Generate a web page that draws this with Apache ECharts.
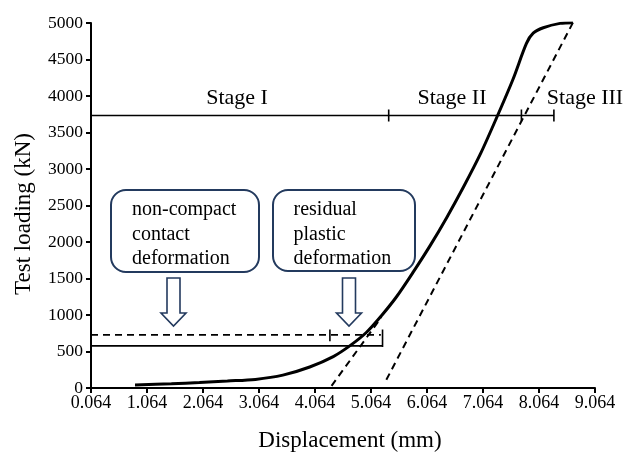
<!DOCTYPE html>
<html><head><meta charset="utf-8">
<script src="https://cdn.jsdelivr.net/npm/echarts@6/dist/echarts.min.js"></script>
<style>html,body{margin:0;padding:0;background:#fff}#c{width:625px;height:454px}</style>
</head><body><div id="c"></div>
<script>
// ---- data ----
const X_OFFSET = 0.064;
const xTickLabels = ['0.064','1.064','2.064','3.064','4.064','5.064','6.064','7.064','8.064','9.064'];
const loadDisp  = [0.85, 1.50, 2.00, 2.50, 3.00, 3.49, 3.97, 4.39, 4.69, 4.98, 5.25, 5.52, 5.82, 6.12, 6.42, 6.72, 7.02, 7.30, 7.60, 7.84, 7.96, 8.14, 8.44, 8.67];
const loadForce = [40, 58, 76, 96, 118, 176, 288, 430, 580, 760, 990, 1250, 1590, 1950, 2340, 2760, 3210, 3690, 4230, 4720, 4860, 4935, 4995, 5005];
const unloadRightDisp  = [8.67, 5.33];
const unloadRightForce = [5005, 100];
const unloadLeftDisp   = [4.36, 5.25];
const unloadLeftForce  = [30, 970];
const solidRefDisp  = [0.064, 5.27];
const solidRefForce = [577, 577];
const bracketDisp   = [5.27, 5.27];
const bracketForce  = [563, 800];
const dashRefDisp   = [0.064, 5.24];
const dashRefForce  = [728, 728];
const dashTickDisp  = [4.33, 4.33];
const dashTickForce = [640, 800];
const stageLoad = 3732;
const stageBounds = [0.064, 5.38, 7.75, 8.33];
const stageTickHalf = 82;
const stageNames = ['Stage I', 'Stage II', 'Stage III'];
const box1Lines = ['non-compact', 'contact', 'deformation'];
const box2Lines = ['residual', 'plastic', 'deformation'];
const xTitle = 'Displacement (mm)';
const yTitle = 'Test loading (kN)';

// ---- build ----
const FONT = '"Liberation Serif", "Times New Roman", serif';
const NAVY = '#233a5e';
const pts = (xs, ys) => xs.map((x, i) => [x - X_OFFSET, ys[i]]);

function seg(xs, ys, width, type) {
  return {
    type: 'line', data: pts(xs, ys), showSymbol: false, symbol: 'none',
    lineStyle: { color: '#000', width: width, type: type || 'solid' },
    silent: true, animation: false, z: 3
  };
}

const series = [];
series.push(Object.assign(seg(loadDisp, loadForce, 3), { smooth: 0.3, z: 5 }));
series.push(seg(unloadRightDisp, unloadRightForce, 2, [7, 5]));
series.push(seg(unloadLeftDisp, unloadLeftForce, 2, [7, 5]));
series.push(seg(solidRefDisp, solidRefForce, 1.6));
series.push(seg(bracketDisp, bracketForce, 1.6));
series.push(seg(dashRefDisp, dashRefForce, 1.6, [7, 5]));
series.push(seg(dashTickDisp, dashTickForce, 1.6));
series.push(seg([stageBounds[0], stageBounds[stageBounds.length - 1]], [stageLoad, stageLoad], 1.6));
stageBounds.slice(1).forEach(b => series.push(seg([b, b], [stageLoad - stageTickHalf, stageLoad + stageTickHalf], 1.6)));

const txt = (t, x, y, size, extra) => Object.assign({
  type: 'text', x: x, y: y, silent: true,
  style: { text: t, font: size + 'px ' + FONT, fill: '#000', textAlign: 'center', textVerticalAlign: 'middle' }
}, extra || {});

function arrow(cx) {
  return {
    type: 'polygon', silent: true,
    shape: { points: [[cx - 6.5, 278], [cx + 6.5, 278], [cx + 6.5, 313], [cx + 12.5, 313], [cx, 326], [cx - 12.5, 313], [cx - 6.5, 313]] },
    style: { fill: '#fff', stroke: NAVY, lineWidth: 1.6 }
  };
}

const graphic = [
  txt(stageNames[0], 237, 98, 22),
  txt(stageNames[1], 452, 98, 22),
  txt(stageNames[2], 585, 98, 22),
  { type: 'rect', silent: true, shape: { x: 111, y: 190, width: 148, height: 82, r: 15 }, style: { fill: 'none', stroke: NAVY, lineWidth: 2 } },
  { type: 'rect', silent: true, shape: { x: 273, y: 190, width: 142, height: 81, r: 15 }, style: { fill: 'none', stroke: NAVY, lineWidth: 2 } },
  arrow(173.5),
  arrow(349),
  txt(xTitle, 350, 441, 23),
  txt(yTitle, 24, 214, 23, { rotation: Math.PI / 2 })
];
const leftText = (t, x, y) => ({ type: 'text', x: x, y: y, silent: true,
  style: { text: t, font: '20px ' + FONT, fill: '#000', textAlign: 'left', textVerticalAlign: 'middle' } });
box1Lines.forEach((t, i) => graphic.push(leftText(t, 132, 210 + i * 24.5)));
box2Lines.forEach((t, i) => graphic.push(leftText(t, 293.5, 210 + i * 24.5)));

const chart = echarts.init(document.getElementById('c'), null, { renderer: 'canvas' });
chart.setOption({
  animation: false,
  backgroundColor: '#fff',
  grid: { left: 91, right: 30, top: 23, bottom: 66, containLabel: false, outerBoundsMode: 'none' },
  xAxis: {
    type: 'value', min: 0, max: xTickLabels.length - 1, interval: 1,
    axisLine: { onZero: false, lineStyle: { color: '#000', width: 2 } },
    axisTick: { show: true, length: 5, lineStyle: { color: '#000', width: 2 } },
    axisLabel: { color: '#000', fontFamily: FONT, fontSize: 18, margin: 6, formatter: v => xTickLabels[Math.round(v)] },
    splitLine: { show: false }
  },
  yAxis: {
    type: 'value', min: 0, max: 5000, interval: 500,
    axisLine: { show: true, onZero: false, lineStyle: { color: '#000', width: 2 } },
    axisTick: { show: true, length: 5, lineStyle: { color: '#000', width: 2 } },
    axisLabel: { color: '#000', fontFamily: FONT, fontSize: 17.5, margin: 8, formatter: v => String(v) },
    splitLine: { show: false }
  },
  series: series,
  graphic: graphic
});
</script></body></html>
